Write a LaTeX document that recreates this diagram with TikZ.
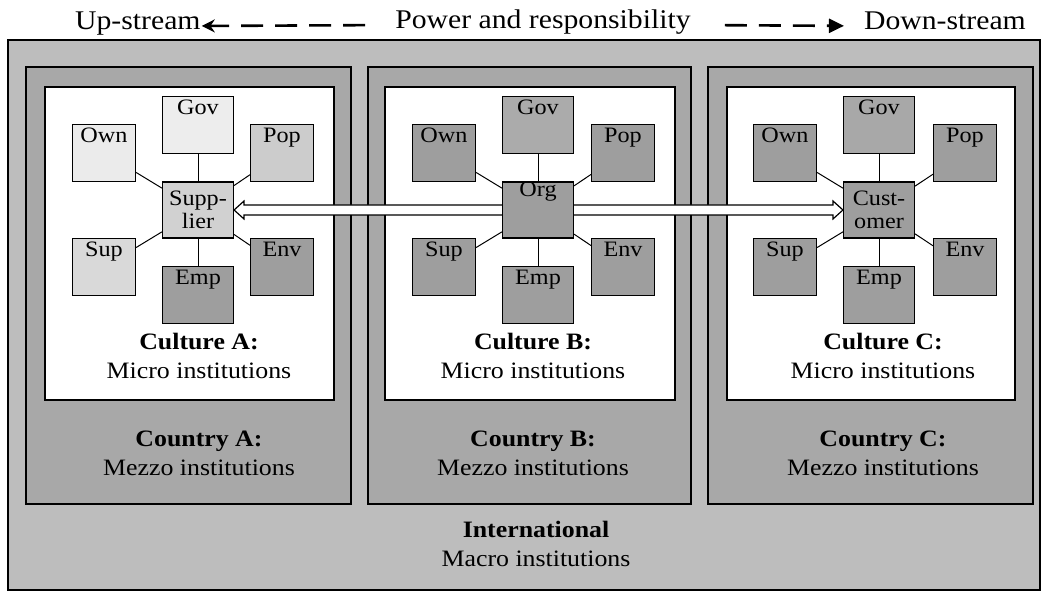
\documentclass[tikz,border=0pt]{standalone}
\usepackage{fontspec}
\setmainfont{Liberation Serif}[FakeStretch=1.1]
\usepackage{tikz}
\usetikzlibrary{arrows.meta,positioning,calc}

\begin{document}
\begin{tikzpicture}[x=1pt, y=-1pt,
  frame/.style={draw=black, line width=2.6pt},
  sat/.style={draw=black, line width=1.1pt, minimum height=57pt, inner sep=0pt},
  satlbl/.style={anchor=north, inner sep=3.5pt, font=\fontsize{22}{23}\selectfont},
  hub/.style={draw=black, line width=1.1pt, minimum width=71pt, minimum height=56pt,
              inner sep=0pt, align=center, font=\fontsize{22}{23}\selectfont},
  link/.style={line width=1pt},
  lvl/.style={align=center, font=\fontsize{23.5}{29}\selectfont},
  head/.style={inner sep=0pt, font=\fontsize{27}{30}\selectfont},
  dashleft/.style={line width=2.6pt, dash pattern=on 22pt off 12pt,
                   -{Stealth[length=13pt,width=13pt]}},
  dashright/.style={line width=2.6pt, dash pattern=on 22pt off 12pt,
                    -{Triangle[length=15pt,width=14pt]}},
  hollow/.style={draw=black, fill=white, line width=1.2pt, line join=miter}
]
\useasboundingbox (0,0) rectangle (1046,593);

% heading with the two dashed arrows
\node[head, anchor=base west] (up) at (75,30) {Up-stream};
\node[head, anchor=base] (power) at (543,29) {Power and responsibility};
\node[head, anchor=base east] (down) at (1026,30) {Down-stream};
\draw[dashleft, shorten <=30pt, shorten >=1pt]
  ([yshift=4pt]power.base west) -- ([yshift=4pt]up.base east);
\draw[dashright, shorten <=34pt, shorten >=20pt]
  ([yshift=4pt]power.base east) -- ([yshift=4pt]down.base west);

% macro frame, then country and culture boxes
\draw[frame, fill=gray!52] (8,40) rectangle (1040,590);
\foreach \l/\r/\cl/\cr in {26/351/45/334, 368/691/385/675, 708/1033/727/1015}{
  \draw[frame, fill=gray!68] (\l,67) rectangle (\r,504);
  \draw[frame, fill=white] (\cl,87) rectangle (\cr,400);
}

% level labels
\node[lvl] (culta) at (199,356) {\textbf{Culture A:}\\Micro institutions};
\node[lvl] (cultb) at (533,356) {\textbf{Culture B:}\\Micro institutions};
\node[lvl] (cultc) at (883,356) {\textbf{Culture C:}\\Micro institutions};
\node[lvl] (ctrya) at (199,453) {\textbf{Country A:}\\Mezzo institutions};
\node[lvl] (ctryb) at (533,453) {\textbf{Country B:}\\Mezzo institutions};
\node[lvl] (ctryc) at (883,453) {\textbf{Country C:}\\Mezzo institutions};
\node[lvl] (intl) at (536,544) {\textbf{International}\\Macro institutions};

% culture A: supplier and its stakeholders
\node[hub, fill=gray!36] (supp) at (198,210) {Supp-\\lier};
\foreach \nm/\dx/\dy/\w/\shade in {Gov/0/-85/71/gray!14, Own/-94/-57/63/gray!16,
    Pop/84/-57/63/gray!40, Sup/-94/57/63/gray!30, Env/84/57/63/gray!76,
    Emp/0/85/71/gray!76}{
  \node[sat, minimum width=\w pt, fill=\shade, label={[satlbl]north:\nm}]
    (a\nm) at ($(supp)+(\dx,\dy)$) {};
  \draw[link] (supp) -- (a\nm);
}

% culture C: customer and its stakeholders
\node[hub, fill=gray!76] (cust) at (879,210) {Cust-\\omer};
\foreach \nm/\dx/\dy/\w/\shade in {Gov/0/-85/71/gray!68, Own/-94/-57/63/gray!76,
    Pop/86/-57/63/gray!76, Sup/-94/57/63/gray!76, Env/86/57/63/gray!76,
    Emp/0/85/71/gray!76}{
  \node[sat, minimum width=\w pt, fill=\shade, label={[satlbl]north:\nm}]
    (c\nm) at ($(cust)+(\dx,\dy)$) {};
  \draw[link] (cust) -- (c\nm);
}

% open double arrow from supplier to customer
\draw[hollow] (supp.east) -- ++(10,-9) -- ++(0,4) -- ($(cust.west)+(-10,-5)$)
  -- ++(0,-4) -- (cust.west) -- ++(-10,9) -- ++(0,-4)
  -- ($(supp.east)+(10,5)$) -- ++(0,4) -- cycle;

% culture B: the organisation sits on top of the arrow
\node[hub, fill=gray!76] (org) at (538,210) {Org\\[18pt]};
\foreach \nm/\dx/\dy/\w/\shade in {Gov/0/-85/71/gray!66, Own/-94/-57/63/gray!76,
    Pop/85/-57/63/gray!76, Sup/-94/57/63/gray!76, Env/85/57/63/gray!76,
    Emp/0/85/71/gray!76}{
  \node[sat, minimum width=\w pt, fill=\shade, label={[satlbl]north:\nm}]
    (b\nm) at ($(org)+(\dx,\dy)$) {};
  \draw[link] (org) -- (b\nm);
}
\end{tikzpicture}
\end{document}
